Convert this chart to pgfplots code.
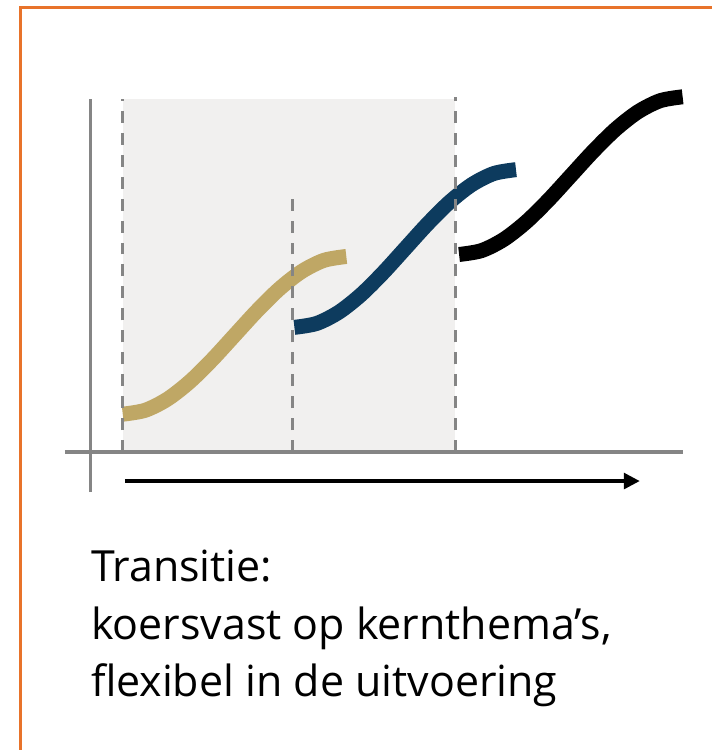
\documentclass[border=0pt]{standalone}
\usepackage{pgfplots}
\pgfplotsset{compat=1.18}
\usepackage{fontspec}
\setmainfont{Open Sans}
\usetikzlibrary{arrows.meta}
\definecolor{borderorange}{HTML}{E8732A}
\definecolor{gold}{HTML}{BFA765}
\definecolor{navy}{HTML}{0D3B5E}
\definecolor{axgray}{HTML}{858585}
\definecolor{shade}{HTML}{F1F0EF}
\begin{document}
\begin{tikzpicture}
\begin{axis}[x=1bp, y=1bp, xmin=0, xmax=713, ymin=0, ymax=751,
  hide axis, clip=false, axis line style={draw=none}]
% bounding box
\addplot[draw=none, forget plot] coordinates {(0,0) (713,751)};
% shaded region
\addplot[fill=shade, draw=none] coordinates {(123,298) (456,298) (456,652) (123,652)} -- cycle;
% axes
\addplot[axgray, line width=3.2bp] coordinates {(91,258) (91,652)};
\addplot[axgray, line width=3.2bp] coordinates {(65,298) (684,298)};
% time arrow
\addplot[black, line width=3.2bp, -{Triangle[length=16bp,width=16bp]}] coordinates {(125,269) (641,269)};
% S-curves
\addplot[gold, line width=15bp, smooth] coordinates {
(123,336) (145.4,339.87) (167.8,351.09) (190.2,368.56) (212.6,390.59) (235,415)
(257.4,439.41) (279.8,461.44) (302.2,478.91) (324.6,490.13) (347,494)};
\addplot[navy, line width=15bp, smooth] coordinates {
(295,423) (317.2,426.87) (339.4,438.09) (361.6,455.56) (383.8,477.59) (406,502)
(428.2,526.41) (450.4,548.44) (472.6,565.91) (494.8,577.13) (517,581)};
\addplot[black, line width=15bp, smooth] coordinates {
(460,496) (482.4,499.87) (504.8,511.09) (527.2,528.56) (549.6,550.59) (572,575)
(594.4,599.41) (616.8,621.44) (639.2,638.91) (661.6,650.13) (684,654)};
% dashed lines
\addplot[axgray, line width=3.2bp, dash pattern=on 12bp off 10bp] coordinates {(123,298) (123,652)};
\addplot[axgray, line width=3.2bp, dash pattern=on 12bp off 10bp] coordinates {(293,298) (293,561)};
\addplot[axgray, line width=3.2bp, dash pattern=on 12bp off 10bp] coordinates {(456,298) (456,654)};
% border
\addplot[borderorange, line width=3bp] coordinates {(21,0) (21,743) (713,743)};
% text
\node[anchor=base west, inner sep=0pt, font=\fontsize{43bp}{57bp}\selectfont] at (axis cs:91,168) {Transitie:};
\node[anchor=base west, inner sep=0pt, font=\fontsize{43bp}{57bp}\selectfont] at (axis cs:91,110) {koersvast op kernthema’s,};
\node[anchor=base west, inner sep=0pt, font=\fontsize{43bp}{57bp}\selectfont] at (axis cs:91,53) {flexibel in de uitvoering};
\end{axis}
\end{tikzpicture}
\end{document}
